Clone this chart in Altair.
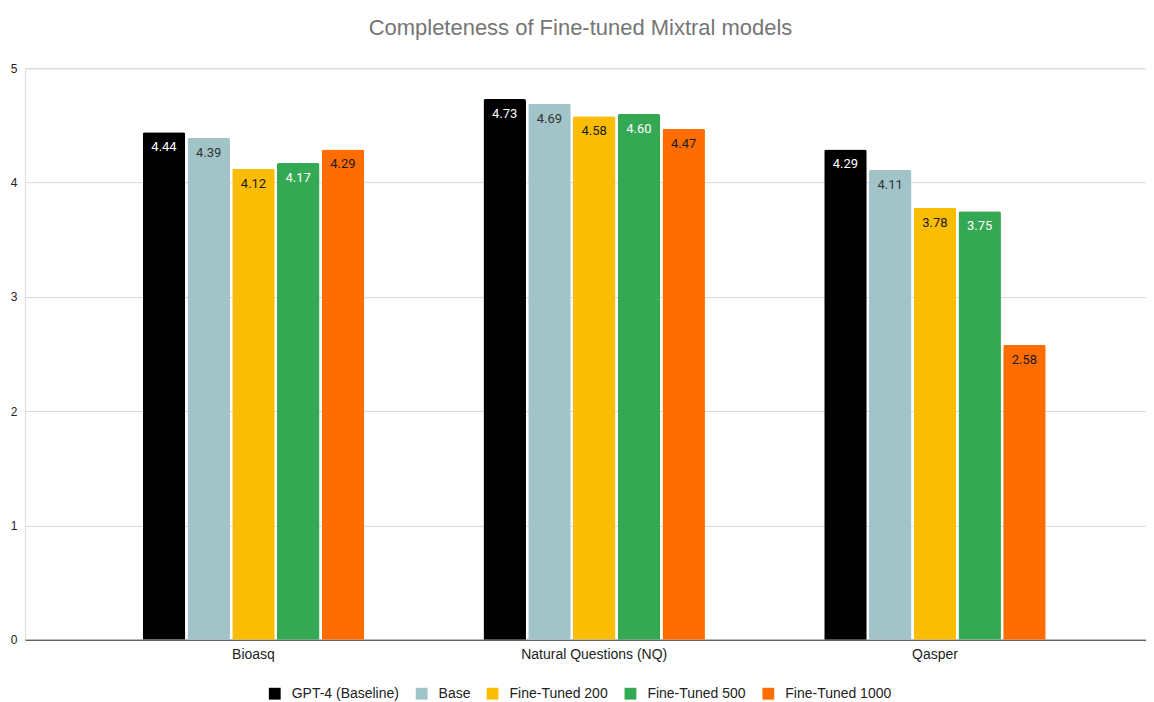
import altair as alt
import pandas as pd

categories = ["Bioasq", "Natural Questions (NQ)", "Qasper"]
series = ["GPT-4 (Baseline)", "Base", "Fine-Tuned 200", "Fine-Tuned 500", "Fine-Tuned 1000"]
values = {
    "GPT-4 (Baseline)": [4.44, 4.73, 4.29],
    "Base": [4.39, 4.69, 4.11],
    "Fine-Tuned 200": [4.12, 4.58, 3.78],
    "Fine-Tuned 500": [4.17, 4.60, 3.75],
    "Fine-Tuned 1000": [4.29, 4.47, 2.58],
}
colors = ["#000000", "#a2c4c9", "#fbbc04", "#34a853", "#ff6d01"]
label_colors = ["#ffffff", "#333333", "#1a1a1a", "#ffffff", "#1a1a1a"]

rows = []
for si, s in enumerate(series):
    for ci, c in enumerate(categories):
        v = values[s][ci]
        rows.append({"dataset": c, "model": s, "value": v,
                     "label": f"{v:.2f}", "lc": label_colors[si]})
df = pd.DataFrame(rows)

FONT = "Liberation Sans"

x = alt.X("dataset:N", sort=categories, title=None,
          scale=alt.Scale(paddingInner=0.35, paddingOuter=0.32, align=0.54),
          axis=alt.Axis(labelAngle=0, labelFontSize=14, labelColor="#222222",
                        labelFont=FONT, ticks=False, domainColor="#333333",
                        labelPadding=8, domainWidth=1))
xo = alt.XOffset("model:N", sort=series, scale=alt.Scale(paddingInner=0.05))
y = alt.Y("value:Q", title=None,
          scale=alt.Scale(domain=[0, 5]),
          axis=alt.Axis(values=[0, 1, 2, 3, 4, 5], format="d", labelFontSize=12,
                        labelColor="#222222", labelFont=FONT, ticks=False, domain=False,
                        gridColor="#d9d9d9", labelPadding=8))

bars = alt.Chart(df).mark_bar(cornerRadiusTopLeft=2, cornerRadiusTopRight=2).encode(
    x=x, xOffset=xo, y=y,
    color=alt.Color("model:N", sort=series,
                    scale=alt.Scale(domain=series, range=colors),
                    legend=alt.Legend(title=None, orient="none", legendX=243, legendY=619,
                                      direction="horizontal",
                                      symbolType="square", symbolSize=140,
                                      symbolStrokeWidth=0, labelFontSize=14,
                                      labelFont=FONT, labelColor="#222222",
                                      columnPadding=15, labelOffset=10)),
)

text = alt.Chart(df).mark_text(baseline="middle", dy=15, fontSize=13, font="Roboto").encode(
    x=alt.X("dataset:N", sort=categories), xOffset=xo, y="value:Q",
    text="label:N", color=alt.Color("lc:N", scale=None),
)

chart = alt.layer(bars, text).properties(
    width=1122, height=572,
    title=alt.TitleParams("Completeness of Fine-tuned Mixtral models", fontSize=22,
                          font=FONT, fontWeight="normal", color="#757575",
                          anchor="middle", offset=22, dx=-5),
    autosize=alt.AutoSizeParams(type="none"),
    padding={"left": 17, "top": 60, "right": 0, "bottom": 62},
).configure_view(stroke=None).configure(background="white")

chart.save("out.html", embed_options={"renderer": "svg", "actions": False})
